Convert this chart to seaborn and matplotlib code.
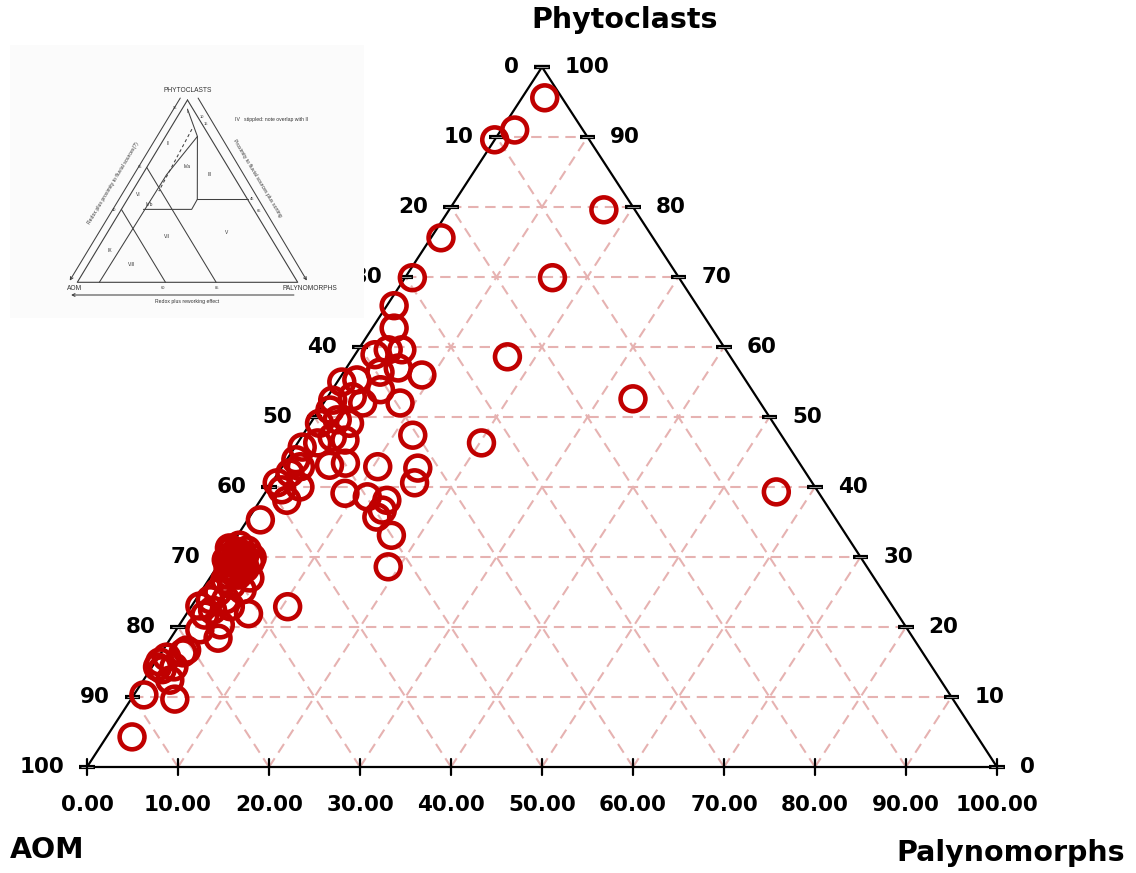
import matplotlib
matplotlib.use('Agg')
import matplotlib.pyplot as plt
import seaborn as sns
import pandas as pd

# ---------------- data (percentages) ----------------
phyto = [95.6, 91.0, 89.6, 79.6, 75.6, 69.9, 69.9, 65.9, 62.7, 58.6, 52.6, 39.3, 46.3,
         58.9, 59.6, 59.6, 56.4, 57.0, 56.0, 55.0, 53.9, 52.4, 52.9, 52.0, 52.0, 49.1,
         49.6, 49.1, 47.1, 47.4, 45.7, 46.3, 43.1, 43.4, 42.9, 42.7, 40.6, 42.9, 40.6,
         42.0, 40.0, 38.1, 39.1, 38.6, 38.1, 36.7, 35.7, 33.1, 28.6, 35.3, 22.9, 55.3,
         51.0, 46.7, 43.9, 39.6,
         30.7, 30.0, 29.6, 28.9, 28.4, 28.4, 29.3, 27.4, 26.7, 27.0, 26.0, 25.0, 25.3,
         23.9, 23.9, 23.0, 22.4, 22.9, 21.9, 20.3, 18.4, 21.7, 16.7, 16.3, 15.7, 14.3,
         14.3, 13.9, 12.4, 9.7, 10.3, 4.3, 15.0, 19.6, 31.0, 30.6, 29.6, 30.0, 27.9, 27.4,
         31.3, 31.0, 31.7, 29.9, 28.4, 29.3, 29.9]
palyno = [2.5, 1.5, 0.0, 17.0, 1.1, 0.8, 16.2, 0.8, 2.4, 16.9, 33.7, 56.1, 20.2,
          2.2, 3.3, 4.8, 4.0, 5.7, 8.8, 0.5, 5.3, 0.8, 2.7, 4.3, 8.4, 1.0,
          2.7, 4.3, 3.4, 12.1, 0.8, 2.2, 5.1, 6.7, 10.5, 15.0, 15.7, 2.0, 0.6,
          1.3, 3.4, 2.9, 8.8, 11.5, 13.9, 14.1, 14.0, 16.9, 18.8, 1.4, 10.6, 2.0,
          1.2, 5.0, 1.0, 1.6,
          1.0, 0.7, 2.0, 1.9, 1.3, 3.2, 3.3, 2.9, 1.8, 4.4, 2.9, 1.9, 4.4,
          1.6, 3.3, 0.9, 2.6, 4.3, 6.8, 4.5, 5.2, 2.1, 2.6, 2.4, 0.9, 2.4,
          0.6, 1.3, 2.9, 4.8, 1.1, 2.8, 0.5, 2.6, 0.4, 1.5, 0.5, 2.3, 2.5, 1.9,
          0.0, 2.1, 0.9, 3.2, 1.8, 2.5, 1.5]
aom = [1.9, 7.5, 10.4, 3.4, 23.3, 29.3, 13.9, 33.3, 34.9, 24.5, 13.7, 4.6, 33.5,
       38.9, 37.1, 35.6, 39.6, 37.3, 35.2, 44.5, 40.8, 46.8, 44.4, 43.7, 39.6, 49.9,
       47.7, 46.6, 49.5, 40.5, 53.5, 51.5, 51.8, 49.9, 46.6, 42.3, 43.7, 55.1, 58.8,
       56.7, 56.6, 59.0, 52.1, 49.9, 48.0, 49.2, 50.3, 50.0, 52.6, 63.3, 66.5, 42.7,
       47.8, 48.3, 55.1, 58.8,
       68.3, 69.3, 68.4, 69.2, 70.3, 68.4, 67.4, 69.7, 71.5, 68.6, 71.1, 73.1, 70.3,
       74.5, 72.8, 76.1, 75.0, 72.8, 71.3, 75.2, 76.4, 76.2, 80.7, 81.3, 83.4, 83.3,
       85.1, 84.8, 84.7, 85.5, 88.6, 92.9, 84.5, 77.8, 68.6, 67.9, 69.9, 67.7, 69.6, 70.7,
       68.7, 66.9, 67.4, 66.9, 69.8, 68.2, 68.6]

grid_levels = [10, 20, 30, 40, 50, 60, 70, 80, 90]
side_ticks = [0, 10, 20, 30, 40, 50, 60, 70, 80, 90, 100]
aom_labels = ['100', '90', '80', '70', '60', '50', '40', '30', '20', '10', '0']      # left side, by phyto level
phyto_labels = ['0', '10', '20', '30', '40', '50', '60', '70', '80', '90', '100']    # right side
bottom_labels = ['0.00', '10.00', '20.00', '30.00', '40.00', '50.00',
                 '60.00', '70.00', '80.00', '90.00', '100.00']

# inset (Tyson palynofacies diagram) field boundaries, as (phyto, palyno) pairs
inset_solid = [
    [(0, 10), (59, 11), (80, 14.5)],
    [(80, 14.5), (95, 2.5)],
    [(80, 14.5), (45.5, 31.7)],
    [(45.5, 31.7), (45.5, 54.5)],
    [(45.5, 31.7), (40, 31.9), (40, 10.0)],
    [(40, 0), (0, 40)],
    [(63, 0), (0, 63)],
]
inset_dashed = [[(84, 10), (50, 12)]]

df = pd.DataFrame({'Phytoclasts': phyto, 'Palynomorphs': palyno, 'AOM': aom})
df['x'] = df['Palynomorphs'] + df['Phytoclasts'] / 2

sns.set_theme(style='white')
plt.rcParams['font.family'] = ['DejaVu Sans']
plt.rcParams['text.color'] = 'black'

W, H = 1136, 873
fig = plt.figure(figsize=(W / 100, H / 100), dpi=100)
fig.patch.set_facecolor('white')
ax = fig.add_axes([87 / W, (H - 767) / H, 910 / W, 700 / H])
ax.set_xlim(0, 100)
ax.set_ylim(0, 100)
ax.axis('off')


def tx(p, q):
    return q + p / 2.0


gc = '#E6B2B1'
gkw = dict(color=gc, lw=1.5, dashes=(5, 3.2), zorder=1)
for v in grid_levels:
    ax.plot([tx(v, 0), tx(v, 100 - v)], [v, v], **gkw)
    ax.plot([tx(0, v), tx(100 - v, v)], [0, 100 - v], **gkw)
    ax.plot([tx(0, 100 - v), tx(100 - v, 0)], [0, 100 - v], **gkw)

ax.plot([0, 50, 100, 0], [0, 100, 0, 0], color='black', lw=1.6, zorder=2,
        solid_joinstyle='miter', clip_on=False)

for p in side_ticks:
    for xc in (p / 2.0, 100 - p / 2.0):
        ax.plot([xc - 0.85, xc + 0.85], [p, p], color='black', lw=3.0,
                solid_capstyle='butt', zorder=3, clip_on=False)
        ax.plot([xc - 0.65, xc + 0.65], [p, p], color='#9a9a9a', lw=0.7,
                solid_capstyle='butt', zorder=3, clip_on=False)
for q in side_ticks:
    ax.plot([q, q], [-1.2, 1.2], color='black', lw=1.6, zorder=3, clip_on=False)

fs = 15.5
for i, p in enumerate(side_ticks):
    ax.text(p / 2.0 - 2.5, p, aom_labels[i], ha='right', va='center',
            fontsize=fs, fontweight='bold', color='black', zorder=3)
    ax.text(100 - p / 2.0 + 2.5, p, phyto_labels[i], ha='left', va='center',
            fontsize=fs, fontweight='bold', color='black', zorder=3)
    ax.text(side_ticks[i], -5.4, bottom_labels[i], ha='center', va='center',
            fontsize=fs, fontweight='bold', color='black', zorder=3)

sns.scatterplot(data=df, x='x', y='Phytoclasts', ax=ax, marker='o', s=320,
                facecolor='none', edgecolor='#C00000', linewidth=3.3,
                clip_on=False, zorder=5, legend=False)
ax.set_xlim(0, 100)
ax.set_ylim(0, 100)
ax.axis('off')

tfs = 20.5
fig.text(625 / W, 1 - 20 / H, 'Phytoclasts', ha='center', va='center',
         fontsize=tfs, fontweight='bold', color='black')
fig.text(10 / W, 1 - 850 / H, 'AOM', ha='left', va='center',
         fontsize=tfs, fontweight='bold', color='black')
fig.text(1125 / W, 1 - 853 / H, 'Palynomorphs', ha='right', va='center',
         fontsize=tfs, fontweight='bold', color='black')

# ---------------- inset: scanned reference diagram ----------------
ax2 = fig.add_axes([10 / W, 1 - 318 / H, 354 / W, 273 / H])
ax2.set_xlim(10, 364)
ax2.set_ylim(318, 45)
ax2.set_facecolor('#fbfbfb')
ax2.set_xticks([])
ax2.set_yticks([])
for s in ax2.spines.values():
    s.set_visible(False)

ix0, iy0, iw, ih = 77.3, 282.3, 220.4, 182.3


def ipt(p, q):
    return ix0 + iw * (q + p / 2.0) / 100.0, iy0 - ih * p / 100.0


lc = '#404040'
tri = [ipt(100, 0), ipt(0, 0), ipt(0, 100), ipt(100, 0)]
ax2.plot([t[0] for t in tri], [t[1] for t in tri], color=lc, lw=0.8)
for seg in inset_solid:
    pts = [ipt(a, b) for a, b in seg]
    ax2.plot([t[0] for t in pts], [t[1] for t in pts], color=lc, lw=0.75)
for seg in inset_dashed:
    pts = [ipt(a, b) for a, b in seg]
    ax2.plot([t[0] for t in pts], [t[1] for t in pts], color=lc, lw=0.75,
             dashes=(3, 2.5))

akw = dict(arrowstyle='->', color=lc, lw=0.75, mutation_scale=5)
ax2.annotate('', xy=(68.3, 283), xytext=(181.7, 95.7), arrowprops=akw)
ax2.annotate('', xy=(308.3, 283), xytext=(196.7, 95.7), arrowprops=akw)
ax2.annotate('', xy=(68.3, 295), xytext=(296.7, 295), arrowprops=akw)

ifam = ['Liberation Sans', 'DejaVu Sans']
tc = '#333333'
ax2.text(188, 90.7, 'PHYTOCLASTS', ha='center', va='center', fontsize=4.8,
         color=tc, family=ifam)
ax2.text(75, 289, 'AOM', ha='center', va='center', fontsize=4.8, color=tc, family=ifam)
ax2.text(310, 289, 'PALYNOMORPHS', ha='center', va='center', fontsize=4.8,
         color=tc, family=ifam)
ax2.text(186.7, 302, 'Redox plus reworking effect', ha='center', va='center',
         fontsize=3.7, color=tc, family=ifam)
ax2.text(272, 120, 'IV   stippled: note overlap with II', ha='center', va='center',
         fontsize=3.7, color=tc, family=ifam)
ax2.text(113, 183, 'Redox plus proximity to fluvial sources(?)', ha='center',
         va='center', rotation=59, fontsize=3.7, color=tc, family=ifam)
ax2.text(257, 178, 'Proximity to fluvial sources plus sorting', ha='center',
         va='center', rotation=-59, fontsize=3.7, color=tc, family=ifam)

for txt, xx, yy in [('95', 175, 108.3), ('65', 140, 166.7), ('40', 114, 210),
                    ('10', 201.7, 116.7), ('15', 206, 124.3), ('45', 252.5, 199),
                    ('65', 258.5, 210.7), ('60', 163.3, 288), ('85', 217, 288)]:
    ax2.text(xx, yy, txt, ha='center', va='center', fontsize=2.9, color=tc, family=ifam)

for txt, xx, yy in [('I', 187.3, 111.7), ('II', 168.3, 143.3), ('IVa', 186.7, 166.7),
                    ('III', 210, 175), ('VI', 138.3, 195), ('IVb', 149, 205),
                    ('VII', 166.7, 236), ('V', 226.7, 232.7), ('IX', 110, 250),
                    ('VIII', 131.7, 264.3)]:
    ax2.text(xx, yy, txt, ha='center', va='center', fontsize=3.5, color=tc, family=ifam)

fig.savefig('out.png', dpi=100, facecolor='white')
